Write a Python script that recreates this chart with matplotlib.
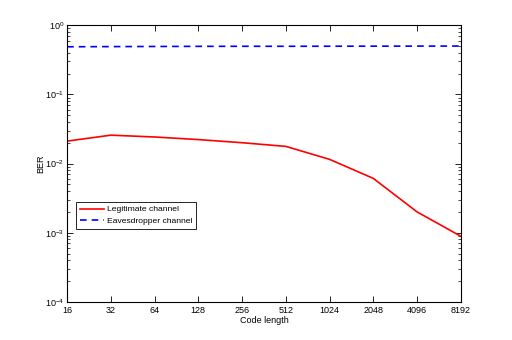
import matplotlib.pyplot as plt
from matplotlib.ticker import FixedLocator, NullFormatter, LogLocator

code_length = [16, 32, 64, 128, 256, 512, 1024, 2048, 4096, 8192]
ber_legit = [0.0211, 0.0257, 0.0242, 0.0222, 0.0200, 0.0177, 0.0115, 0.0061, 0.0020, 0.00089]
ber_eaves = [0.487, 0.490, 0.492, 0.494, 0.495, 0.495, 0.496, 0.497, 0.498, 0.499]

plt.rcParams['font.family'] = ['Liberation Sans', 'DejaVu Sans']
plt.rcParams['font.size'] = 6.5

fig = plt.figure(figsize=(5.12, 3.4), dpi=100)
ax = fig.add_axes([0.131, 0.112, 0.769, 0.814])

ax.plot(code_length, ber_legit, color='#ff0000', lw=1.2, label='Legitimate channel')
ax.plot(code_length, ber_eaves, color='#0000ff', lw=1.2, ls=(0, (4, 3)), label='Eavesdropper channel')

ax.set_xscale('log', base=2)
ax.set_yscale('log')
ax.set_xlim(16, 8192)
ax.set_ylim(1e-4, 1)
ax.xaxis.set_major_locator(FixedLocator(code_length))
ax.xaxis.set_minor_formatter(NullFormatter())
ax.set_xticklabels([str(c) for c in code_length])
ax.yaxis.set_major_locator(LogLocator(base=10, numticks=10))
ax.yaxis.set_minor_locator(LogLocator(base=10, subs=range(2, 10), numticks=10))

ax.tick_params(which='both', direction='in', top=True, right=True)
ax.tick_params(axis='x', pad=3)
ax.tick_params(axis='y', pad=2)
ax.tick_params(which='major', length=4, width=0.6)
ax.tick_params(which='minor', length=2, width=0.5)
for s in ax.spines.values():
    s.set_linewidth(0.8)

ax.set_xlabel('Code length', labelpad=1)
ax.set_ylabel('BER', labelpad=0)

leg = ax.legend(loc='upper left', bbox_to_anchor=(0.022, 0.362), fancybox=False,
                edgecolor='black', framealpha=1, handlelength=2.9, handletextpad=0.35,
                borderpad=0.45, labelspacing=0.4, borderaxespad=0, fontsize=6.1)
leg.get_frame().set_linewidth(0.6)

fig.savefig('out.png', dpi=100)
